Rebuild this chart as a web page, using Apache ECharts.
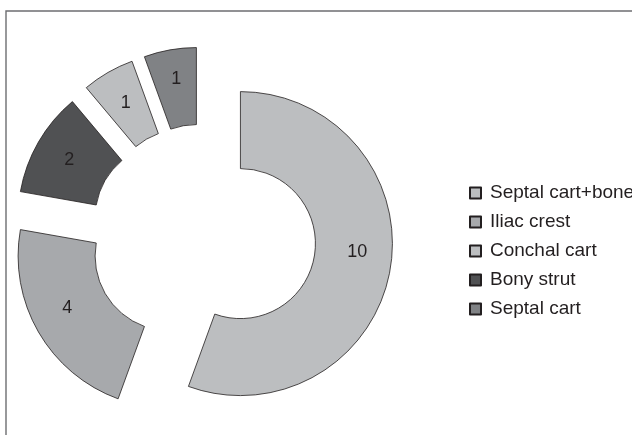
<!DOCTYPE html>
<html>
<head>
<meta charset="utf-8">
<script src="https://cdn.jsdelivr.net/npm/echarts@6/dist/echarts.min.js"></script>
<style>
    html, body { margin: 0; padding: 0; background: #fff; }
    #main { width: 632px; height: 435px; }
</style>
</head>
<body>
<div id="main"></div>
<script>
// slices, clockwise from 12 o'clock
var names = ['Septal cart+bone', 'Iliac crest', 'Bony strut', 'Conchal cart', 'Septal cart'];
var values = [10, 4, 2, 1, 1];
// legend order as printed
var legendNames = ['Septal cart+bone', 'Iliac crest', 'Conchal cart', 'Bony strut', 'Septal cart'];

var colors = ['#bcbec0', '#a7a9ac', '#505153', '#bcbec0', '#808285'];
var ink = '#231f20';

var pieData = [];
for (var i = 0; i < names.length; i++) {
    pieData.push({
        name: names[i],
        value: values[i],
        selected: true,
        itemStyle: { color: colors[i] }
    });
}

// small nudges so the numbers sit where the original has them
var labelShift = { 0: [2, -12], 1: [-2, -6], 4: [0, -6] };

var option = {
    animation: false,
    backgroundColor: '#fff',
    graphic: [
        {
            type: 'rect',
            shape: { x: 6, y: 11, width: 700, height: 500 },
            style: { fill: 'none', stroke: '#6d6e71', lineWidth: 1.4 },
            silent: true
        }
    ],
    legend: {
        data: legendNames,
        orient: 'vertical',
        left: 464,
        top: 178,
        itemWidth: 11,
        itemHeight: 11,
        itemGap: 9,
        icon: 'rect',
        selectedMode: false,
        textStyle: {
            color: ink,
            fontSize: 19,
            lineHeight: 20,
            fontFamily: 'Liberation Sans, Arial, sans-serif',
            padding: [0, 0, 0, 4]
        }
    },
    series: [
        {
            type: 'pie',
            center: [203, 237],
            radius: [75, 152],
            startAngle: 90,
            clockwise: true,
            selectedMode: 'multiple',
            selectedOffset: 38,
            avoidLabelOverlap: false,
            itemStyle: { borderColor: ink, borderWidth: 0.8 },
            select: { itemStyle: { borderColor: ink, borderWidth: 0.8 } },
            emphasis: { disabled: true },
            label: {
                show: true,
                position: 'inside',
                formatter: '{c}',
                color: ink,
                fontSize: 18,
                fontFamily: 'Liberation Sans, Arial, sans-serif'
            },
            labelLine: { show: false },
            labelLayout: function (params) {
                var s = labelShift[params.dataIndex];
                if (s) return { dx: s[0], dy: s[1] };
                return {};
            },
            data: pieData
        }
    ]
};

var chart = echarts.init(document.getElementById('main'));
chart.setOption(option);
</script>
</body>
</html>
